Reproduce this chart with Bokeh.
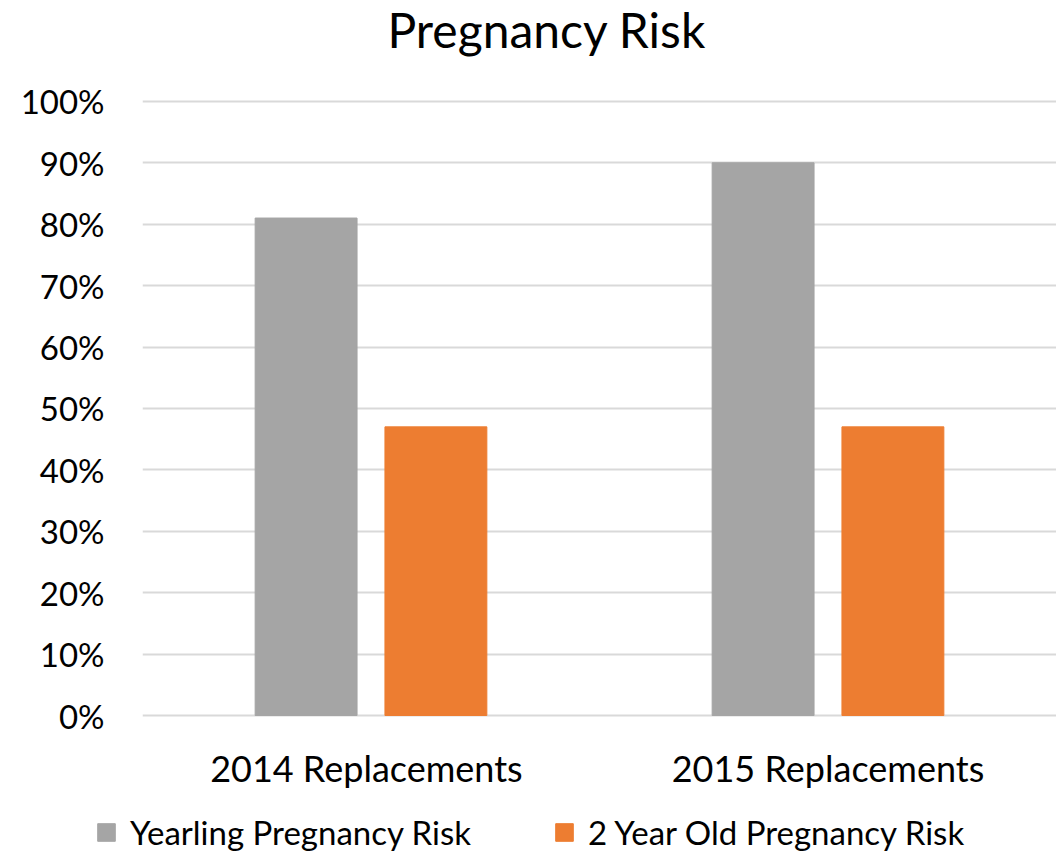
from bokeh.plotting import figure
from bokeh.models import (ColumnDataSource, Legend, LegendItem, NumeralTickFormatter,
                          FixedTicker, Range1d, Label)
from bokeh.layouts import column
from bokeh.transform import dodge
from bokeh.embed import file_html
from bokeh.resources import INLINE

# ---- data ----
title_text = "Pregnancy  Risk"
categories = ["2014  Replacements", "2015 Replacements"]
series_names = ["Yearling Pregnancy Risk", "2 Year Old Pregnancy Risk"]
yearling = [0.81, 0.90]
two_year = [0.47, 0.47]
y_ticks = [i / 10 for i in range(11)]

colors = ["#a5a5a5", "#ed7d31"]
FONT = "Lato"

# ---- layout constants (pixels) ----
W = 1056
H_MAIN = 792
H_LEG = 60
FRAME_LEFT = 142
PX_TOP = 101      # pixel row of 100 %
PX_ZERO = 716     # pixel row of 0 %
FRAME_BOTTOM = 718
scale = (PX_ZERO - PX_TOP)  # pixels per 1.0

src = ColumnDataSource(dict(cat=categories, yearling=yearling, two_year=two_year))

p = figure(x_range=categories,
           y_range=Range1d(-(FRAME_BOTTOM - PX_ZERO) / scale, 1 + PX_TOP / scale),
           width=W, height=H_MAIN, output_backend="svg", toolbar_location=None,
           min_border_left=FRAME_LEFT, min_border_right=0, min_border_top=0,
           min_border_bottom=H_MAIN - FRAME_BOTTOM)

p.vbar(x=dodge("cat", -0.142, range=p.x_range), top="yearling", width=0.223,
       source=src, color=colors[0])
p.vbar(x=dodge("cat", 0.142, range=p.x_range), top="two_year", width=0.223,
       source=src, color=colors[1])

p.add_layout(Label(x=245, y=FRAME_BOTTOM - 30, x_units="screen", y_units="screen",
                   text=title_text, text_font=FONT, text_font_size="48px",
                   text_color="#000000", text_baseline="alphabetic", text_align="left"))

p.outline_line_color = None
p.background_fill_color = "white"
p.border_fill_color = "white"
p.xgrid.grid_line_color = None
p.ygrid.grid_line_color = "#d9d9d9"
p.ygrid.grid_line_width = 2

p.yaxis.ticker = FixedTicker(ticks=y_ticks)
p.yaxis.formatter = NumeralTickFormatter(format="0%")
for ax in (p.xaxis, p.yaxis):
    ax.axis_line_color = None
    ax.major_tick_line_color = None
    ax.minor_tick_line_color = None
    ax.major_tick_out = 0
    ax.major_tick_in = 0
    ax.major_label_text_color = "#000000"
    ax.major_label_text_font = FONT
p.yaxis.major_label_text_font_size = "33px"
p.xaxis.major_label_text_font_size = "36px"
p.yaxis.major_label_standoff = 38
p.xaxis.major_label_standoff = 28

# ---- legend row ----
p2 = figure(x_range=p.x_range, y_range=Range1d(10, 11), width=W, height=H_LEG,
            output_backend="svg", toolbar_location=None,
            min_border_left=0, min_border_right=0, min_border_top=0, min_border_bottom=0)
g1 = p2.vbar(x=dodge("cat", -0.142, range=p2.x_range), top="yearling", width=0.223,
             source=src, color=colors[0])
g2 = p2.vbar(x=dodge("cat", 0.142, range=p2.x_range), top="two_year", width=0.223,
             source=src, color=colors[1])
p2.xaxis.visible = False
p2.yaxis.visible = False
p2.grid.visible = False
p2.outline_line_color = None
p2.background_fill_color = "white"
p2.border_fill_color = "white"

leg_x = 95 - FRAME_LEFT
if "frame_align" in p2.properties():
    p.frame_align = False
    p2.frame_align = False
    leg_x = 95

legend = Legend(items=[LegendItem(label=series_names[0], renderers=[g1]),
                       LegendItem(label=series_names[1], renderers=[g2])],
                location=(leg_x, 0), orientation="horizontal",
                glyph_width=22, glyph_height=22, label_standoff=13, label_width=423,
                spacing=0, padding=0, margin=0, border_line_color=None,
                background_fill_alpha=0,
                label_text_font=FONT, label_text_font_size="33px", label_text_color="#000000")
p2.add_layout(legend, "center")

layout = column(p, p2, spacing=0)
open("out.html", "w").write(file_html(layout, INLINE))
